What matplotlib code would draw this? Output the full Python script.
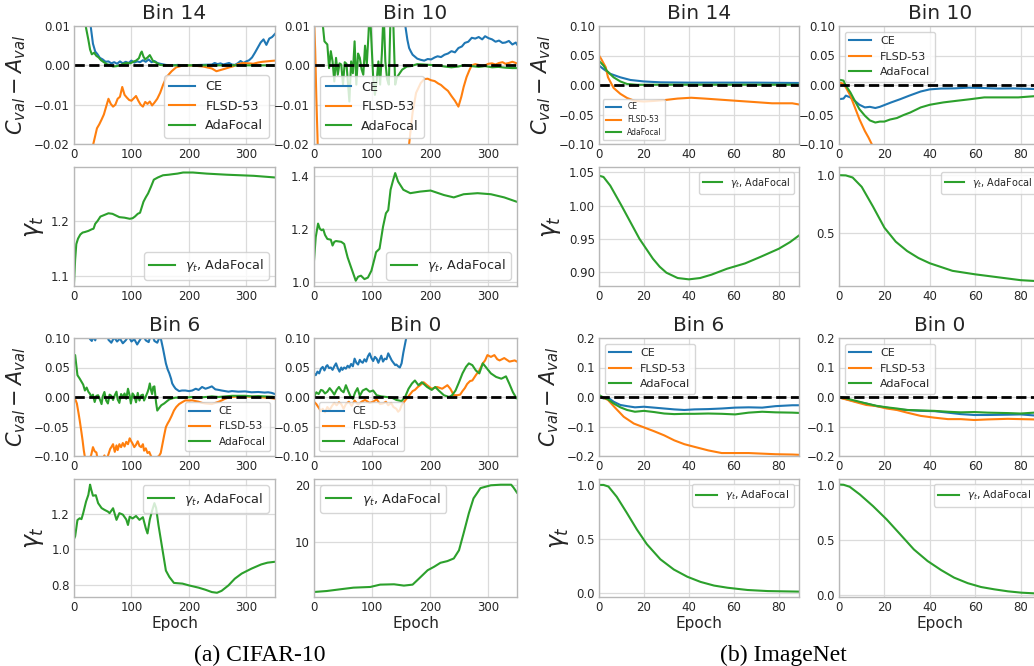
import matplotlib
matplotlib.use("Agg")
import matplotlib.pyplot as plt

W, H = 1034, 666

plt.rcParams.update({
    "font.family": ["DejaVu Sans"],
    "mathtext.fontset": "dejavusans",
    "text.color": "0.15",
    "axes.labelcolor": "0.15",
    "xtick.color": "0.15",
    "ytick.color": "0.15",
    "axes.edgecolor": "0.72",
    "axes.linewidth": 1.0,
    "grid.color": "0.86",
    "grid.linewidth": 0.9,
    "xtick.major.size": 0,
    "ytick.major.size": 0,
    "xtick.major.pad": 3,
    "ytick.major.pad": 3,
    "xtick.labelsize": 8.5,
    "ytick.labelsize": 8.5,
    "lines.linewidth": 1.5,
})

C_CE, C_FL, C_ADA = "#1f77b4", "#ff7f0e", "#2ca02c"

# ---------------- CIFAR-10, Bin 14 ----------------
c14_ce_x = [0, 10, 20, 29, 33, 37, 41, 45, 50, 55, 60, 65, 70, 75, 80, 85, 90, 95, 100, 105,
            110, 115, 120, 125, 130, 135, 140, 145, 150, 160, 170, 180, 200, 220, 240, 245, 250, 255, 260, 265,
            270, 275, 280, 285, 290, 295, 300, 305, 310, 315, 320, 325, 330, 335, 340, 345, 350]
c14_ce_y = [0.05, 0.03, 0.016, 0.010, 0.0055, 0.0035, 0.0028, 0.0019, 0.0015, 0.0009,
            0.0010, 0.0005, 0.0008, 0.0004, 0.0010, 0.0005, 0.0009, 0.0006, 0.0012, 0.0007,
            0.0010, 0.0008, 0.0013, 0.0009, 0.0015, 0.0008, 0.0011, 0.0006, 0.0004, 0.0001,
            0.0, 0.0001, 0.0, 0.0001, 0.0002, 0.0006, 0.0003, 0.0005, 0.0002, 0.0004,
            0.0006, 0.0002, 0.0001, 0.0005, 0.0011, 0.0006, 0.0010, 0.0013, 0.0020, 0.0032,
            0.0045, 0.0058, 0.0066, 0.0052, 0.0068, 0.0072, 0.0080]
c14_ada_x = [0, 10, 18, 21, 25, 28, 31, 35, 39, 43, 47, 52, 57, 62, 68, 74, 80, 86, 92, 98,
             103, 108, 113, 116, 118, 121, 124, 128, 132, 135, 138, 142, 146, 150, 160, 200, 250, 300, 350]
c14_ada_y = [0.04, 0.02, 0.012, 0.0095, 0.0065, 0.0040, 0.0028, 0.0032, 0.0024, 0.0020,
             0.0013, 0.0008, 0.0003, 0.0001, -0.0003, -0.0002, 0.0000, 0.0004, 0.0006, 0.0005,
             0.0009, 0.0012, 0.0018, 0.0030, 0.0035, 0.0022, 0.0015, 0.0020, 0.0026, 0.0018,
             0.0010, 0.0008, 0.0004, 0.0001, 0.0, 0.0, 0.0, 0.0, 0.0]
c14_fl_x = [0, 15, 25, 32, 36, 40, 44, 48, 52, 56, 60, 64, 68, 72, 76, 80, 84, 88, 92, 96,
            100, 104, 108, 112, 116, 120, 124, 128, 132, 136, 140, 145, 150, 155, 161, 170, 178, 188, 196, 210,
            225, 240, 248, 255, 262, 271, 278, 285, 294, 305, 312, 320, 328, 335, 342, 350]
c14_fl_y = [-0.045, -0.032, -0.025, -0.021, -0.0185, -0.0160, -0.0150, -0.0138, -0.0125, -0.0105,
            -0.0085, -0.0098, -0.0105, -0.0100, -0.0085, -0.0080, -0.0055, -0.0075, -0.0082, -0.0088,
            -0.0090, -0.0084, -0.0078, -0.0090, -0.0100, -0.0105, -0.0093, -0.0098, -0.0092, -0.0102,
            -0.0095, -0.0085, -0.0070, -0.0050, -0.0030, -0.0015, -0.0005, -0.0001, 0.0, -0.0001,
            -0.0003, -0.0008, -0.0015, -0.0012, -0.0009, -0.0005, -0.0002, 0.0003, 0.0006, 0.0005,
            0.0004, 0.0007, 0.0009, 0.0010, 0.0011, 0.0012]

# ---------------- CIFAR-10, Bin 10 ----------------
c10_ce_x = [0, 100, 150, 155, 158, 161, 164, 167, 170, 174, 178, 184, 190, 196, 202, 208, 213, 219, 225, 231,
            237, 243, 249, 255, 260, 266, 272, 278, 284, 290, 295, 301, 307, 313, 319, 325, 330, 336, 342, 348, 350]
c10_ce_y = [0.05, 0.04, 0.02, 0.013, 0.0095, 0.0065, 0.0044, 0.0035, 0.0027, 0.0022,
            0.0017, 0.0014, 0.0012, 0.0016, 0.0015, 0.0020, 0.0023, 0.0021, 0.0027, 0.0030,
            0.0036, 0.0033, 0.0044, 0.0048, 0.0057, 0.0060, 0.0070, 0.0068, 0.0072, 0.0066,
            0.0074, 0.0069, 0.0066, 0.0060, 0.0063, 0.0057, 0.0058, 0.0062, 0.0053, 0.0058, 0.0053]
c10_ada_x = [0, 8, 14, 18, 23, 26, 29, 32, 35, 38, 41, 44, 47, 50, 53, 56, 61, 64, 67, 70,
             73, 76, 79, 82, 85, 88, 91, 94, 96, 99, 102, 105, 108, 111, 114, 117, 120, 123, 126, 129,
             132, 135, 137, 140, 143, 146, 152, 160, 167, 178, 190, 200, 213, 225, 237, 249, 260, 272, 284, 295,
             307, 318, 330, 342, 350]
c10_ada_y = [0.03, 0.02, 0.012, 0.0061, 0.0053, -0.0007, 0.0036, 0.0010, -0.0041, 0.0019,
             -0.0024, 0.0005, 0.0002, -0.0049, 0.0008, 0.0004, -0.0092, 0.0010, -0.0020, 0.0061,
             -0.0049, 0.0030, 0.0019, -0.0010, -0.0024, 0.0050, 0.0002, 0.0080, 0.0150, 0.0061,
             -0.0030, -0.0075, -0.0040, 0.0010, -0.0049, 0.0030, 0.0140, 0.0010, -0.0035, -0.0049,
             0.0130, 0.0150, 0.0095, -0.0049, -0.0030, -0.0024, -0.0011, -0.0003, -0.0002, 0.0003,
             0.0002, 0.0001, 0.0, -0.0003, -0.0005, -0.0003, 0.0001, -0.0002, -0.0004, -0.0002,
             -0.0005, -0.0004, -0.0006, -0.0007, -0.0007]
c10_fl_x = [0, 2, 4, 6, 8, 12, 30, 60, 100, 140, 158, 164, 170, 176, 184, 190, 196, 202,
            208, 214, 219, 225, 231, 237, 243, 249, 254, 258, 263, 268, 272, 278, 284, 290, 295, 301, 307, 313,
            319, 325, 330, 336, 342, 350]
c10_fl_y = [0.012, 0.004, -0.008, -0.018, -0.03, -0.04, -0.045, -0.05, -0.05, -0.045,
            -0.028, -0.020, -0.012, -0.007, -0.0045, -0.0035, -0.0034, -0.0038,
            -0.0040, -0.0046, -0.0050, -0.0058, -0.0065, -0.0078, -0.0090, -0.0105, -0.0080, -0.0055,
            -0.0030, -0.0012, 0.0000, 0.0003, 0.0001, -0.0002, 0.0000, 0.0004, 0.0005, 0.0002,
            0.0006, 0.0008, 0.0004, 0.0006, 0.0009, 0.0005]

# ---------------- CIFAR-10, gamma (Bin 14 / Bin 10) ----------------
c14_gam_x = [0, 2, 4, 7, 11, 15, 19, 25, 31, 34, 37, 41, 46, 53, 60, 67, 73, 79, 88, 97,
             102, 106, 111, 115, 118, 121, 125, 129, 134, 139, 146, 155, 165, 172, 180, 190, 207, 231, 266, 313, 350]
c14_gam_y = [1.088, 1.130, 1.158, 1.168, 1.1755, 1.179, 1.180, 1.182, 1.185, 1.186,
             1.195, 1.200, 1.208, 1.211, 1.214, 1.213, 1.210, 1.207, 1.206, 1.204,
             1.205, 1.208, 1.213, 1.215, 1.225, 1.235, 1.243, 1.250, 1.262, 1.275,
             1.279, 1.283, 1.284, 1.285, 1.286, 1.288, 1.288, 1.286, 1.284, 1.282, 1.279]
c10_gam_x = [0, 3, 7, 10, 13, 16, 19, 23, 29, 32, 35, 38, 47, 52, 58, 64, 72, 76, 81, 87,
             93, 99, 105, 107, 113, 119, 124, 128, 132, 136, 140, 145, 154, 166, 183, 201, 224, 241, 258, 282,
             305, 328, 349]
c10_gam_y = [1.079, 1.168, 1.219, 1.200, 1.194, 1.197, 1.176, 1.161, 1.158, 1.136,
             1.150, 1.153, 1.150, 1.142, 1.091, 1.053, 1.003, 1.018, 1.022, 1.009,
             1.015, 1.041, 1.092, 1.111, 1.124, 1.207, 1.258, 1.270, 1.347, 1.380,
             1.410, 1.378, 1.347, 1.334, 1.340, 1.344, 1.327, 1.318, 1.330, 1.334,
             1.330, 1.318, 1.302]

# ---------------- CIFAR-10, Bin 6 ----------------
c6_ce_x = [0, 20, 28, 31, 34, 37, 40, 45, 50, 55, 60, 65, 70, 75, 80, 85, 90, 95, 100, 105,
           110, 115, 120, 125, 130, 135, 140, 145, 148, 151, 155, 160, 163, 166, 169, 171, 174, 177, 180, 183,
           188, 194, 200, 206, 212, 217, 223, 229, 235, 240, 246, 252, 257, 263, 269, 275, 286, 298, 309, 321,
           332, 338, 344, 350]
c6_ce_y = [0.14, 0.12, 0.098, 0.095, 0.102, 0.096, 0.108, 0.12, 0.11, 0.13,
           0.097, 0.092, 0.101, 0.094, 0.099, 0.091, 0.096, 0.103, 0.094, 0.098,
           0.089, 0.097, 0.105, 0.096, 0.093, 0.11, 0.095, 0.092, 0.099, 0.100,
           0.082, 0.057, 0.047, 0.040, 0.031, 0.023, 0.018, 0.014, 0.012, 0.010,
           0.011, 0.011, 0.010, 0.011, 0.014, 0.012, 0.017, 0.014, 0.016, 0.018,
           0.013, 0.012, 0.011, 0.010, 0.009, 0.010, 0.009, 0.0095, 0.008, 0.0085,
           0.0075, 0.008, 0.007, 0.005]
c6_ada_x = [0, 2, 6, 10, 13, 16, 19, 22, 25, 28, 30, 33, 36, 39, 42, 45, 48, 50, 53, 56,
            59, 62, 65, 68, 71, 74, 76, 79, 82, 85, 88, 91, 94, 97, 99, 102, 105, 108, 111, 114,
            117, 120, 122, 125, 128, 130, 132, 134, 136, 138, 140, 143, 145, 148, 152, 157, 162, 166, 172, 177,
            185, 194, 205, 217, 230, 240, 252, 263, 275, 286, 298, 310, 321, 332, 344, 350]
c6_ada_y = [0.070, 0.071, 0.037, 0.031, 0.026, 0.021, 0.011, 0.016, 0.009, 0.005,
            0.000, 0.004, -0.0085, 0.002, 0.003, -0.004, -0.012, 0.001, 0.0085, -0.006,
            -0.011, 0.004, 0.002, -0.005, 0.003, 0.009, -0.004, -0.010, 0.005, 0.000,
            0.006, -0.003, 0.014, 0.002, -0.011, 0.006, 0.002, -0.009, 0.007, -0.006,
            0.003, 0.004, -0.006, 0.001, 0.008, 0.014, 0.023, 0.012, 0.005, 0.017,
            0.018, -0.010, -0.023, -0.019, -0.014, -0.011, -0.007, -0.004, -0.002, -0.001,
            -0.001, -0.001, 0.000, -0.001, 0.000, 0.001, 0.000, 0.001, 0.002, 0.002,
            0.002, 0.001, 0.0015, 0.001, 0.0005, 0.000]
c6_fl_x = [0, 3, 5, 8, 10, 13, 15, 17, 19, 22, 26, 30, 33, 36, 39, 42, 46, 50, 53, 56,
           60, 63, 65, 68, 71, 74, 76, 79, 82, 85, 88, 91, 94, 97, 99, 102, 105, 108, 111, 114,
           117, 120, 122, 125, 128, 131, 134, 138, 143, 148, 151, 154, 157, 160, 163, 166, 170, 174, 178, 183,
           188, 194, 200, 206, 212, 217, 223, 229, 235, 240, 246, 252, 257, 263, 269, 275, 286, 298, 309, 321,
           332, 344, 350]
c6_fl_y = [0.000, -0.006, -0.011, -0.028, -0.040, -0.060, -0.074, -0.090, -0.102, -0.112,
           -0.108, -0.098, -0.085, -0.092, -0.094, -0.110, -0.120, -0.105, -0.099, -0.108,
           -0.097, -0.088, -0.085, -0.080, -0.093, -0.082, -0.090, -0.080, -0.085, -0.078,
           -0.084, -0.076, -0.080, -0.070, -0.074, -0.079, -0.085, -0.081, -0.075, -0.083,
           -0.085, -0.080, -0.091, -0.087, -0.095, -0.093, -0.100, -0.105, -0.103, -0.100,
           -0.095, -0.080, -0.065, -0.051, -0.045, -0.040, -0.032, -0.023, -0.017, -0.012,
           -0.009, -0.0057, -0.006, -0.0057, -0.007, -0.008, -0.010, -0.011, -0.0115, -0.012,
           -0.010, -0.008, -0.006, -0.003, -0.001, 0.000, 0.001, 0.001, 0.0005, 0.000,
           -0.001, -0.002, -0.003]

# ---------------- CIFAR-10, Bin 0 ----------------
c0_ce_x = [0, 3, 6, 9, 12, 15, 18, 21, 23, 26, 29, 32, 35, 38, 41, 44, 47, 49, 52, 55,
           58, 61, 64, 67, 70, 73, 76, 79, 81, 84, 87, 90, 93, 96, 99, 102, 105, 108, 111, 113,
           116, 119, 122, 125, 128, 131, 134, 137, 140, 142, 145, 148, 151, 154, 157, 160, 165, 175, 200, 350]
c0_ce_y = [0.040, 0.037, 0.043, 0.040, 0.048, 0.051, 0.045, 0.052, 0.054, 0.049,
           0.050, 0.046, 0.052, 0.057, 0.049, 0.043, 0.050, 0.046, 0.050, 0.048,
           0.053, 0.050, 0.056, 0.052, 0.065, 0.058, 0.055, 0.063, 0.060, 0.058,
           0.064, 0.060, 0.069, 0.074, 0.066, 0.061, 0.068, 0.065, 0.058, 0.063,
           0.070, 0.060, 0.065, 0.064, 0.074, 0.068, 0.062, 0.058, 0.054, 0.055,
           0.052, 0.050, 0.057, 0.075, 0.090, 0.105, 0.14, 0.2, 0.3, 0.3]
c0_ada_x = [0, 4, 8, 12, 15, 19, 23, 27, 31, 35, 39, 43, 47, 51, 55, 59, 63, 67, 71, 75,
            79, 84, 90, 96, 102, 108, 116, 125, 134, 142, 151, 157, 163, 169, 174, 180, 186, 195, 203, 209,
            215, 224, 233, 238, 244, 250, 256, 262, 267, 273, 279, 285, 291, 296, 305, 314, 323, 331, 337, 343, 349]
c0_ada_y = [0.000, 0.008, 0.005, 0.012, 0.011, 0.006, 0.009, 0.015, 0.010, 0.004,
            0.012, 0.017, 0.011, 0.008, 0.020, 0.010, 0.001, -0.003, 0.008, 0.015,
            0.002, 0.011, 0.014, 0.009, 0.011, 0.003, 0.001, 0.000, -0.001, -0.005,
            -0.007, 0.000, 0.014, 0.023, 0.028, 0.020, 0.025, 0.017, 0.012, 0.017,
            0.011, 0.003, 0.000, 0.003, 0.011, 0.025, 0.040, 0.051, 0.057, 0.054,
            0.045, 0.040, 0.057, 0.051, 0.040, 0.034, 0.031, 0.035, 0.022, 0.008, -0.002]
c0_fl_x = [0, 4, 8, 12, 15, 19, 23, 27, 31, 35, 39, 43, 47, 51, 55, 60, 65, 70, 76, 82,
           88, 96, 102, 108, 114, 119, 124, 128, 133, 137, 142, 145, 148, 151, 157, 162, 166, 170, 174, 179,
           183, 189, 195, 203, 212, 221, 230, 235, 241, 247, 252, 256, 260, 264, 269, 273, 279, 285, 291, 295,
           299, 305, 311, 316, 320, 328, 337, 346, 350]
c0_fl_y = [-0.008, -0.012, -0.018, -0.024, -0.020, -0.026, -0.017, -0.022, -0.015, -0.010,
           -0.014, -0.009, -0.012, -0.020, -0.012, -0.008, -0.015, -0.006, -0.013, -0.008,
           -0.005, -0.010, -0.008, -0.004, -0.012, -0.011, -0.008, -0.014, -0.010, -0.017,
           -0.020, -0.025, -0.022, -0.014, -0.006, 0.000, 0.005, 0.010, 0.012, 0.017,
           0.020, 0.025, 0.020, 0.014, 0.017, 0.014, 0.020, 0.014, 0.003, 0.003,
           0.004, 0.010, 0.015, 0.022, 0.027, 0.028, 0.037, 0.045, 0.057, 0.062,
           0.071, 0.068, 0.071, 0.064, 0.062, 0.066, 0.060, 0.062, 0.060]

# ---------------- CIFAR-10, gamma (Bin 6 / Bin 0) ----------------
c6_gam_x = [0, 2, 6, 10, 13, 16, 21, 25, 28, 30, 33, 38, 42, 48, 53, 59, 62, 68, 74, 79,
            85, 91, 94, 97, 102, 108, 114, 120, 125, 128, 132, 136, 140, 143, 147, 154, 160, 166, 174, 189,
            200, 217, 229, 240, 249, 257, 269, 280, 292, 309, 326, 337, 350]
c6_gam_y = [1.06, 1.075, 1.167, 1.177, 1.172, 1.206, 1.272, 1.31, 1.368, 1.34,
            1.305, 1.308, 1.263, 1.235, 1.225, 1.215, 1.206, 1.234, 1.168, 1.206,
            1.198, 1.170, 1.139, 1.186, 1.176, 1.190, 1.168, 1.183, 1.120, 1.091,
            1.170, 1.220, 1.263, 1.235, 1.140, 1.000, 0.880, 0.844, 0.810, 0.806,
            0.796, 0.783, 0.771, 0.758, 0.754, 0.765, 0.796, 0.834, 0.863, 0.891,
            0.915, 0.925, 0.930]
c0_gam_x = [0, 22, 45, 68, 97, 114, 138, 155, 170, 181, 196, 207, 218, 230, 241, 250, 258, 267, 275, 287,
            305, 322, 340, 344, 350]
c0_gam_y = [1.18, 1.35, 1.65, 1.94, 2.06, 2.47, 2.53, 2.30, 2.47, 3.53,
            5.0, 5.6, 6.3, 6.6, 7.06, 8.5, 11.5, 15.0, 17.6, 19.4,
            19.9, 20.0, 20.0, 19.5, 18.6]

# ---------------- ImageNet, Bin 14 ----------------
i14_ce_x = [0, 2, 5, 9.5, 14, 20, 27.5, 40, 55, 70, 86, 89]
i14_ce_y = [0.033, 0.027, 0.019, 0.013, 0.0085, 0.006, 0.0045, 0.004, 0.004, 0.004, 0.0035, 0.0035]
i14_ada_x = [0, 2, 3.5, 6.5, 9.5, 12.5, 17, 25, 40, 60, 89]
i14_ada_y = [0.041, 0.033, 0.024, 0.013, 0.006, 0.0017, 0.0003, 0.0005, 0.0005, 0.0005, 0.0005]
i14_fl_x = [0, 1, 3, 4, 6.5, 9.5, 12.5, 16, 20, 24.5, 29, 35, 41, 47, 54.5, 62, 69.6, 77, 86, 89]
i14_fl_y = [0.05, 0.044, 0.03, 0.013, -0.005, -0.015, -0.022, -0.027, -0.028, -0.027,
            -0.0256, -0.023, -0.0216, -0.023, -0.025, -0.027, -0.029, -0.031, -0.031, -0.033]

# ---------------- ImageNet, Bin 10 ----------------
i10_ce_x = [0, 2, 3, 5, 7, 9, 11.4, 13.6, 16, 18, 20, 23, 27, 31, 36, 40, 45, 51, 57, 62.5, 70, 77, 86, 89]
i10_ce_y = [-0.024, -0.023, -0.018, -0.021, -0.027, -0.0335, -0.038, -0.037, -0.039, -0.037,
            -0.034, -0.0295, -0.024, -0.018, -0.011, -0.0074, -0.006, -0.0057, -0.0045, -0.005,
            -0.006, -0.0057, -0.0068, -0.0065]
i10_ada_x = [0, 2, 3, 5, 7, 9, 11.4, 13.6, 16, 18, 20, 22.5, 25.5, 28.4, 31.4, 36, 40, 46, 52, 58,
             64, 71.4, 79, 86, 89]
i10_ada_y = [0.009, 0.0074, -0.001, -0.0125, -0.027, -0.041, -0.052, -0.06, -0.0636, -0.062,
             -0.062, -0.0585, -0.056, -0.051, -0.0466, -0.038, -0.0335, -0.0295, -0.0267, -0.024,
             -0.021, -0.021, -0.021, -0.019, -0.019]
i10_fl_x = [0, 2, 3, 5, 7, 9, 11.4, 13, 14.4, 20, 30, 50, 89]
i10_fl_y = [0.0045, 0.002, -0.004, -0.018, -0.038, -0.058, -0.078, -0.089, -0.1, -0.15, -0.2, -0.25, -0.3]

# ---------------- ImageNet, gamma (Bin 14 / Bin 10) ----------------
i14_gam_x = [0, 2, 5, 10, 14, 18, 21, 24, 27, 30, 35, 40, 45, 50, 57, 65, 72, 80, 85, 89]
i14_gam_y = [1.045, 1.043, 1.03, 1.0, 0.975, 0.95, 0.935, 0.92, 0.908, 0.899,
             0.891, 0.889, 0.891, 0.896, 0.905, 0.913, 0.923, 0.935, 0.945, 0.955]
i10_gam_x = [0, 3, 6, 10, 15, 20, 25, 30, 35, 40, 50, 60, 70, 80, 89]
i10_gam_y = [1.0, 0.998, 0.98, 0.9, 0.73, 0.55, 0.43, 0.35, 0.29, 0.245, 0.18, 0.15, 0.125, 0.10, 0.09]

# ---------------- ImageNet, Bin 6 ----------------
i6_x = [0, 2, 4, 6.5, 9.5, 12.5, 16, 20, 24.5, 29, 33.5, 38, 42.5, 48.6, 54.6, 60.6, 66.6, 72.6, 78.6, 86, 89]
i6_ce_y = [0.002, -0.005, -0.002, -0.016, -0.027, -0.031, -0.035, -0.033, -0.036, -0.039,
           -0.042, -0.044, -0.042, -0.041, -0.039, -0.036, -0.035, -0.036, -0.031, -0.028, -0.028]
i6_ada_y = [0.007, -0.002, -0.008, -0.022, -0.035, -0.044, -0.05, -0.047, -0.051, -0.056,
            -0.058, -0.057, -0.057, -0.056, -0.057, -0.059, -0.053, -0.05, -0.052, -0.053, -0.054]
i6_fl_x = [0, 2, 4, 7, 11, 15.5, 20, 24.5, 29, 33.5, 38, 42.5, 48.6, 54.6, 60.6, 66.6, 72.6, 78.6, 86, 89]
i6_fl_y = [0.0, -0.003, -0.01, -0.035, -0.067, -0.09, -0.103, -0.116, -0.13, -0.147,
           -0.16, -0.169, -0.181, -0.19, -0.19, -0.19, -0.192, -0.194, -0.195, -0.196]

# ---------------- ImageNet, Bin 0 ----------------
i0_x = [0, 3, 7.7, 12, 16.6, 21, 25.5, 30, 36, 42, 48, 53.6, 59.6, 65.5, 74.4, 80, 86, 89]
i0_ce_y = [-0.001, -0.007, -0.016, -0.022, -0.031, -0.036, -0.042, -0.044, -0.047, -0.048,
           -0.053, -0.058, -0.061, -0.061, -0.06, -0.059, -0.0625, -0.063]
i0_ada_y = [0.001, -0.0045, -0.0136, -0.022, -0.03, -0.035, -0.039, -0.044, -0.0455, -0.047,
            -0.05, -0.052, -0.051, -0.053, -0.0545, -0.056, -0.053, -0.054]
i0_fl_y = [-0.002, -0.008, -0.018, -0.027, -0.031, -0.039, -0.044, -0.053, -0.064, -0.07,
           -0.075, -0.075, -0.078, -0.076, -0.074, -0.075, -0.076, -0.077]

# ---------------- ImageNet, gamma (Bin 6 / Bin 0) ----------------
i6_gam_x = [0, 2, 4.2, 7.9, 12.4, 16.9, 21.3, 27.3, 33.3, 39.3, 45.2, 51.2, 57.2, 66.1, 75.1, 89]
i6_gam_y = [1.0, 1.0, 0.985, 0.89, 0.74, 0.585, 0.45, 0.31, 0.215, 0.148, 0.1, 0.066, 0.046, 0.025, 0.015, 0.01]
i0_gam_x = [0, 2, 4.7, 9.2, 15, 21, 27, 33, 39, 45, 50.7, 56.7, 62.6, 68.5, 74.5, 80.4, 86, 89]
i0_gam_y = [1.0, 0.998, 0.98, 0.91, 0.805, 0.685, 0.55, 0.414, 0.31, 0.228,
            0.16, 0.11, 0.075, 0.054, 0.036, 0.024, 0.018, 0.016]

# axes boxes in pixels (x0, x1) / (y0, y1)
cols = [(74, 275), (314, 517), (599, 799), (839, 1041)]
rows = [(26, 144), (167, 286), (338, 456), (479, 597)]

fig = plt.figure(figsize=(W / 100, H / 100), dpi=100)


def make_ax(c, r):
    x0, x1 = cols[c]
    y0, y1 = rows[r]
    ax = fig.add_axes([x0 / W, 1 - y1 / H, (x1 - x0) / W, (y1 - y0) / H])
    ax.grid(True)
    ax.set_axisbelow(True)
    return ax


def diff_panel(c, r, title, series, ylim, yticks, loc, lfs, cifar):
    ax = make_ax(c, r)
    for (x, y), col, lab in zip(series, [C_CE, C_FL, C_ADA], ["CE", "FLSD-53", "AdaFocal"]):
        ax.plot(x, y, color=col, label=lab)
    ax.axhline(0, color="black", ls="--", lw=2)
    ax.set_ylim(*ylim)
    ax.set_yticks(yticks)
    ax.set_title(title, fontsize=14.5, pad=5)
    ax.legend(loc=loc, fontsize=lfs, frameon=True, edgecolor="0.8", framealpha=0.8)
    setx(ax, cifar)
    if c in (0, 2):
        ax.set_ylabel(r"$C_{val} - A_{val}$", fontsize=15)
    return ax


def gamma_panel(c, r, x, y, ylim, yticks, loc, lfs, cifar):
    ax = make_ax(c, r)
    ax.plot(x, y, color=C_ADA, label=r"$\gamma_t$, AdaFocal")
    ax.set_ylim(*ylim)
    ax.set_yticks(yticks)
    ax.legend(loc=loc, fontsize=lfs, frameon=True, edgecolor="0.8", framealpha=0.8)
    setx(ax, cifar)
    if c in (0, 2):
        ax.set_ylabel(r"$\gamma_t$", fontsize=17)
    if r == 3:
        ax.set_xlabel("Epoch", fontsize=11, labelpad=1)
    return ax


def setx(ax, cifar):
    if cifar:
        ax.set_xlim(0, 350)
        ax.set_xticks([0, 100, 200, 300])
    else:
        ax.set_xlim(0, 89)
        ax.set_xticks([0, 20, 40, 60, 80])


# CIFAR-10
diff_panel(0, 0, "Bin 14", [(c14_ce_x, c14_ce_y), (c14_fl_x, c14_fl_y), (c14_ada_x, c14_ada_y)],
           (-0.02, 0.01), [-0.02, -0.01, 0.0, 0.01], "lower right", 9.3, True)
diff_panel(1, 0, "Bin 10", [(c10_ce_x, c10_ce_y), (c10_fl_x, c10_fl_y), (c10_ada_x, c10_ada_y)],
           (-0.02, 0.01), [-0.02, -0.01, 0.0, 0.01], "lower left", 9.2, True)
gamma_panel(0, 1, c14_gam_x, c14_gam_y, (1.082, 1.298), [1.1, 1.2], "lower right", 9.2, True)
gamma_panel(1, 1, c10_gam_x, c10_gam_y, (0.983, 1.433), [1.0, 1.2, 1.4], "lower right", 9.2, True)
diff_panel(0, 2, "Bin 6", [(c6_ce_x, c6_ce_y), (c6_fl_x, c6_fl_y), (c6_ada_x, c6_ada_y)],
           (-0.1, 0.1), [-0.1, -0.05, 0.0, 0.05, 0.1], "lower right", 7.5, True)
diff_panel(1, 2, "Bin 0", [(c0_ce_x, c0_ce_y), (c0_fl_x, c0_fl_y), (c0_ada_x, c0_ada_y)],
           (-0.1, 0.1), [-0.1, -0.05, 0.0, 0.05, 0.1], "lower left", 7.5, True)
gamma_panel(0, 3, c6_gam_x, c6_gam_y, (0.73, 1.4), [0.8, 1.0, 1.2], "upper right", 9.3, True)
gamma_panel(1, 3, c0_gam_x, c0_gam_y, (0.3, 21), [10, 20], "upper left", 9.3, True)

# ImageNet
diff_panel(2, 0, "Bin 14", [(i14_ce_x, i14_ce_y), (i14_fl_x, i14_fl_y), (i14_ada_x, i14_ada_y)],
           (-0.1, 0.1), [-0.1, -0.05, 0.0, 0.05, 0.1], "lower left", 5.5, False)
diff_panel(3, 0, "Bin 10", [(i10_ce_x, i10_ce_y), (i10_fl_x, i10_fl_y), (i10_ada_x, i10_ada_y)],
           (-0.1, 0.1), [-0.1, -0.05, 0.0, 0.05, 0.1], "upper left", 8, False)
gamma_panel(2, 1, i14_gam_x, i14_gam_y, (0.879, 1.058), [0.90, 0.95, 1.00, 1.05], "upper right", 7, False)
gamma_panel(3, 1, i10_gam_x, i10_gam_y, (0.05, 1.07), [0.5, 1.0], "upper right", 7, False)
diff_panel(2, 2, "Bin 6", [(i6_x, i6_ce_y), (i6_fl_x, i6_fl_y), (i6_x, i6_ada_y)],
           (-0.2, 0.2), [-0.2, -0.1, 0.0, 0.1, 0.2], "upper left", 8, False)
diff_panel(3, 2, "Bin 0", [(i0_x, i0_ce_y), (i0_x, i0_fl_y), (i0_x, i0_ada_y)],
           (-0.2, 0.2), [-0.2, -0.1, 0.0, 0.1, 0.2], "upper left", 8, False)
gamma_panel(2, 3, i6_gam_x, i6_gam_y, (-0.04, 1.055), [0.0, 0.5, 1.0], "upper right", 7.5, False)
gamma_panel(3, 3, i0_gam_x, i0_gam_y, (-0.015, 1.05), [0.0, 0.5, 1.0], "upper right", 7.5, False)

fig.text(260 / W, 1 - 655 / H, "(a) CIFAR-10", ha="center", va="center",
         fontsize=17, family="Liberation Serif", color="black")
fig.text(783 / W, 1 - 655 / H, "(b) ImageNet", ha="center", va="center",
         fontsize=17, family="Liberation Serif", color="black")

fig.savefig("out.png", dpi=100)
